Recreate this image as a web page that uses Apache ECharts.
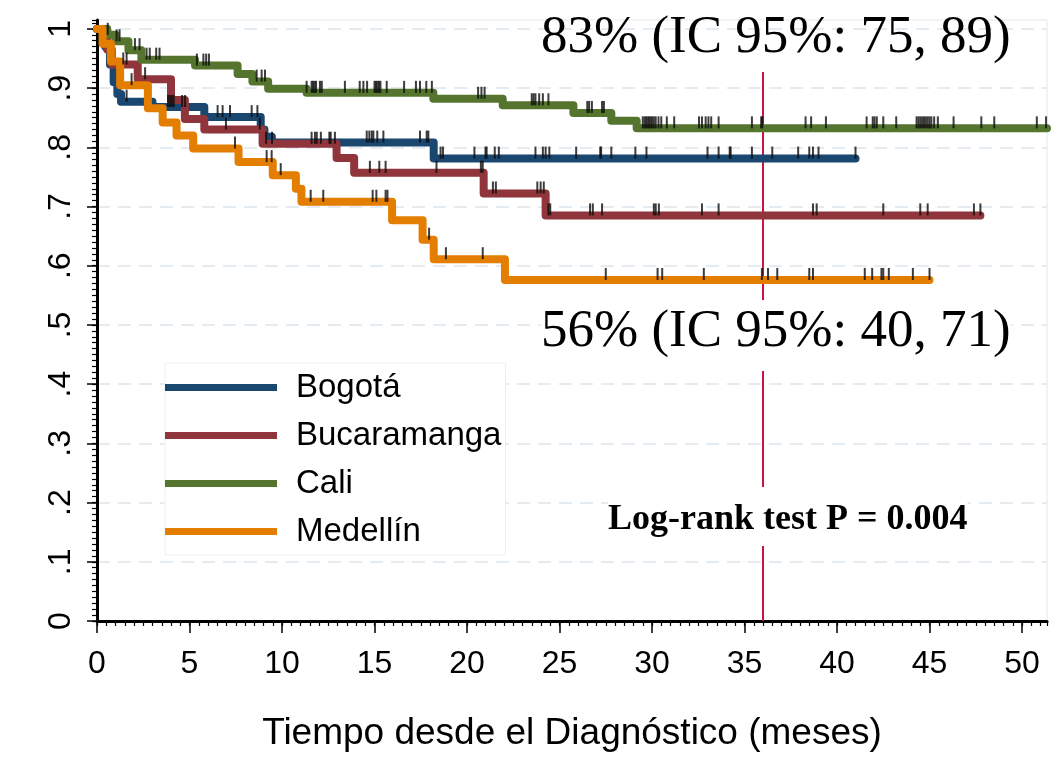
<!DOCTYPE html>
<html>
<head>
<meta charset="utf-8">
<script src="https://cdn.jsdelivr.net/npm/echarts@6/dist/echarts.min.js"></script>
<style>
  html, body { margin: 0; padding: 0; background: #ffffff; }
  #chart { width: 1061px; height: 758px; }
</style>
</head>
<body>
<div id="chart"></div>
<script>
// Groups and their colours
const groups = ['Bogotá', 'Bucaramanga', 'Cali', 'Medellín'];
const groupColors = ['#1a476f', '#90353b', '#55752f', '#e37e00'];

// Kaplan–Meier survival steps: [months, survival]
const bogotaSteps = [[0, 1], [0.45, 0.97], [0.7, 0.94], [0.9, 0.91], [1.1, 0.89], [1.3, 0.877],
  [3.0, 0.868], [5.8, 0.851], [8.85, 0.83], [9.05, 0.818], [9.45, 0.808], [18.2, 0.781], [41.0, 0.781]];
const bucaramangaSteps = [[0, 1], [0.55, 0.965], [0.8, 0.94], [2.2, 0.915], [4.0, 0.88], [4.75, 0.848],
  [5.8, 0.83], [8.95, 0.806], [12.95, 0.782], [13.9, 0.757], [20.9, 0.722], [24.25, 0.685], [47.75, 0.685]];
const caliSteps = [[0, 1], [0.55, 0.99], [1.0, 0.979], [1.7, 0.964], [2.4, 0.948], [5.3, 0.938],
  [7.6, 0.924], [8.4, 0.911], [9.25, 0.899], [11.33, 0.892], [18.18, 0.882], [21.93, 0.871],
  [25.75, 0.858], [27.8, 0.845], [29.17, 0.832], [51.35, 0.832]];
const medellinSteps = [[0, 1], [0.3, 0.975], [0.75, 0.945], [1.25, 0.905], [2.75, 0.866], [3.55, 0.842],
  [4.3, 0.82], [5.2, 0.798], [7.65, 0.775], [9.5, 0.753], [10.75, 0.73], [11.05, 0.708],
  [15.95, 0.677], [17.6, 0.644], [18.2, 0.611], [22.05, 0.576], [45.0, 0.576]];

// Censoring times (months)
const bogotaCensored = [1.6, 3.84, 3.95, 4.05, 4.15, 4.6, 4.76, 6.52, 6.79, 7.19, 8.36, 8.67,
  14.58, 14.72, 14.85, 14.94, 15.15, 15.48, 17.46, 17.82, 17.91, 18.57, 18.7, 20.4, 21.0, 21.06,
  21.5, 21.72, 23.7, 24.1, 24.25, 24.45, 25.9, 27.2, 27.25, 27.8, 29.1, 29.7, 33.0, 33.6, 34.2,
  34.25, 35.4, 36.5, 37.9, 38.5, 38.7, 39.0, 41.0];
const bucaramangaCensored = [1.42, 1.6, 2.6, 6.97, 8.8, 9.14, 9.46, 11.6, 11.78, 11.88, 12.1,
  12.56, 12.63, 12.86, 14.75, 15.26, 15.6, 18.35, 20.75, 20.85, 21.4, 21.56, 23.8, 23.98, 24.15,
  24.4, 24.5, 26.65, 26.8, 27.3, 30.1, 30.2, 30.37, 32.7, 33.6, 38.7, 38.9, 42.5, 44.5, 44.9,
  47.4, 47.75];
const caliCensored = [0.58, 1.06, 1.22, 2.05, 2.3, 2.68, 2.85, 3.2, 3.38, 5.4, 5.75, 5.9, 6.05,
  8.63, 8.9, 9.08, 11.33, 11.6, 11.68, 11.76, 11.84, 12.05, 12.15, 13.4, 14.2, 14.4, 14.6, 15.0,
  15.08, 15.16, 15.24, 15.32, 15.66, 16.6, 17.24, 17.46, 17.8, 18.1, 20.6, 20.78, 20.95, 23.5,
  23.6, 23.7, 23.9, 24.1, 24.4, 26.5, 26.6, 26.75, 27.3, 27.4, 29.5, 29.6, 29.68, 29.76, 29.84,
  29.92, 30.0, 30.1, 30.2, 30.35, 30.5, 30.8, 31.2, 32.54, 32.7, 32.9, 33.05, 33.2, 33.6, 35.4,
  35.9, 35.96, 38.3, 38.6, 39.4, 41.6, 41.93, 42.03, 42.15, 42.5, 43.2, 44.3, 44.4, 44.5, 44.6,
  44.7, 44.8, 44.9, 45.0, 45.1, 45.25, 45.45, 46.3, 47.8, 48.5, 50.8, 51.3];
const medellinCensored = [1.87, 7.46, 9.17, 9.44, 9.93, 11.55, 12.23, 14.9, 15.1, 15.6, 15.7,
  17.95, 18.86, 20.85, 27.5, 30.3, 30.55, 32.8, 35.94, 36.27, 36.77, 38.5, 38.7, 41.5, 41.9,
  42.4, 42.5, 42.8, 44.1, 45.0];

// Axis ticks
const xTickValues = [0, 5, 10, 15, 20, 25, 30, 35, 40, 45, 50];
const yTickValues = [0, 0.1, 0.2, 0.3, 0.4, 0.5, 0.6, 0.7, 0.8, 0.9, 1];
const yTickLabels = ['0', '.1', '.2', '.3', '.4', '.5', '.6', '.7', '.8', '.9', '1'];

// Reference line at 36 months
const refMonth = 36;
const refTop = 0.927;

// Annotations
const topNote = '83% (IC 95%: 75, 89)';
const midNote = '56% (IC 95%: 40, 71)';
const testNote = 'Log-rank test P = 0.004';
const xTitle = 'Tiempo desde el Diagnóstico (meses)';

const allSteps = [bogotaSteps, bucaramangaSteps, caliSteps, medellinSteps];
const allCensored = [bogotaCensored, bucaramangaCensored, caliCensored, medellinCensored];

function survivalAt(steps, t) {
  let v = steps[0][1];
  for (const [m, s] of steps) {
    if (m <= t + 1e-9) v = s; else break;
  }
  return v;
}

const SANS = "'Liberation Sans', Arial, Helvetica, sans-serif";
const SERIF = "'Liberation Serif', 'Times New Roman', Times, serif";

const xMax = 51.35;
const yMax = 1.015;

const series = [];
groups.forEach((g, i) => {
  series.push({
    name: g,
    type: 'line',
    step: 'end',
    data: allSteps[i],
    showSymbol: false,
    symbol: 'none',
    lineStyle: { color: groupColors[i], width: 8, cap: 'round', join: 'round' },
    itemStyle: { color: groupColors[i] },
    emphasis: { disabled: true },
    z: 3 + i
  });
});
groups.forEach((g, i) => {
  series.push({
    name: g + ' censurados',
    type: 'scatter',
    data: allCensored[i].map(t => [t, survivalAt(allSteps[i], t)]),
    symbol: 'rect',
    symbolSize: [2, 12],
    symbolOffset: [0, -6],
    itemStyle: { color: '#0d0d0d' },
    emphasis: { disabled: true },
    silent: true,
    z: 10
  });
});
series.push({
  name: 'ref',
  type: 'line',
  data: [[refMonth, 0], [refMonth, refTop]],
  showSymbol: false,
  symbol: 'none',
  lineStyle: { color: '#c8133f', width: 2 },
  emphasis: { disabled: true },
  silent: true,
  z: 2
});

const chart = echarts.init(document.getElementById('chart'), null, { renderer: 'canvas' });
chart.setOption({
  animation: false,
  backgroundColor: '#ffffff',
  grid: {
    left: 97, right: 14, top: 20, bottom: 137,
    show: true, borderColor: '#e3e9ef', borderWidth: 1, backgroundColor: 'transparent'
  },
  legend: {
    data: groups,
    orient: 'vertical',
    left: 165,
    top: 363,
    icon: 'rect',
    itemWidth: 112,
    itemHeight: 7,
    itemGap: 15,
    padding: [8, 4, 7, 0],
    borderColor: '#edf0f3',
    borderWidth: 1,
    backgroundColor: '#ffffff',
    selectedMode: false,
    textStyle: { fontFamily: SANS, fontSize: 33, color: '#000', lineHeight: 30, padding: [0, 0, 0, 14] }
  },
  xAxis: [{
    type: 'value',
    min: 0, max: xMax, interval: 5,
    name: xTitle,
    nameLocation: 'middle',
    nameGap: 94,
    nameTextStyle: { fontFamily: SANS, fontSize: 37, color: '#000' },
    axisLine: { show: true, onZero: false, lineStyle: { color: '#000', width: 3 } },
    axisTick: { show: true, length: 12, customValues: xTickValues, lineStyle: { color: '#000', width: 1.5 } },
    axisLabel: { customValues: xTickValues, margin: 27, fontFamily: SANS, fontSize: 32, color: '#000' },
    splitLine: { show: false }
  }, {
    type: 'value',
    position: 'bottom',
    min: 0, max: xMax, interval: 0.5,
    axisLine: { show: false },
    axisTick: { show: true, length: 5, lineStyle: { color: '#000', width: 1.2 } },
    axisLabel: { show: false },
    splitLine: { show: false }
  }],
  yAxis: [{
    type: 'value',
    min: 0, max: yMax, interval: 0.1,
    axisLine: { show: true, onZero: false, lineStyle: { color: '#000', width: 3 } },
    axisTick: { show: true, length: 10, customValues: yTickValues, lineStyle: { color: '#000', width: 1.5 } },
    axisLabel: {
      customValues: yTickValues,
      rotate: 90,
      margin: 20,
      fontFamily: SANS, fontSize: 32, color: '#000',
      formatter: v => {
        const k = yTickValues.findIndex(t => Math.abs(t - v) < 1e-6);
        return k >= 0 ? yTickLabels[k] : '';
      }
    },
    splitLine: {
      show: true,
      lineStyle: { color: '#dce5ed', width: 1.5, type: [13, 8] }
    }
  }, {
    type: 'value',
    position: 'left',
    min: 0, max: yMax, interval: 0.01,
    axisLine: { show: false },
    axisTick: { show: true, length: 5, lineStyle: { color: '#000', width: 1.2 } },
    axisLabel: { show: false },
    splitLine: { show: false }
  }],
  series: series,
  graphic: [
    {
      type: 'text', left: 541, top: 12, z: 100,
      style: { text: topNote, font: `53px ${SERIF}`, fill: '#000' }
    },
    {
      type: 'text', left: 541, top: 300, z: 100,
      style: { text: midNote, font: `53px ${SERIF}`, fill: '#000',
        backgroundColor: '#ffffff', padding: [6, 0, 12, 0] }
    },
    {
      type: 'text', left: 608, top: 487, z: 100,
      style: { text: testNote, font: `bold 36px ${SERIF}`, fill: '#000',
        backgroundColor: '#ffffff', padding: [15, 0, 8, 0] }
    }
  ]
});
</script>
</body>
</html>
